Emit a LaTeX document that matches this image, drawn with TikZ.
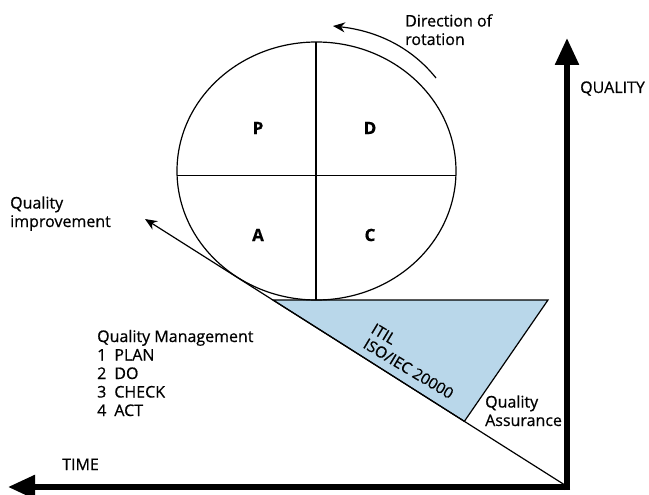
\documentclass[tikz,border=0pt]{standalone}
\usepackage{fontspec}
\setmainfont{Open Sans}[FakeBold=0.6]
\usetikzlibrary{arrows.meta,calc}
\begin{document}
\begin{tikzpicture}[x=1pt,y=-1pt,
  lbl/.style={font=\fontsize{16}{18.5}\selectfont, inner sep=0pt},
  quad/.style={font=\fontsize{17}{17}\selectfont\bfseries, inner sep=0pt},
  axis/.style={line width=5.5pt, -{Triangle[length=27pt,width=23pt]}},
  thin/.style={line width=1.2pt}]
\useasboundingbox (0,0) rectangle (649,495);
% coordinates
\coordinate (O) at (568,487);
\coordinate (Qtop) at (567,38);
\coordinate (Tleft) at (8,487);
\coordinate (QI) at (145,219);
\coordinate (t1) at (273,300);
\coordinate (t2) at (548,300);
\coordinate (t3) at ($(O)!0.245!(QI)$);
% triangle
\filldraw[fill={rgb,255:red,185;green,215;blue,234}, thin, line join=miter] (t1) -- (t2) -- (t3) -- cycle;
% diagonal
\draw[thin, -{Stealth[length=12pt,width=10pt]}] (O) -- (QI);
% circle
\coordinate (c) at (316.5,171);
\draw[thin] (c) ellipse [x radius=139.5, y radius=129];
\draw[thin] (316,42) -- (316,300);
\draw[thin] (177.3,175.5) -- (455.7,175.5);
% axes
\draw[axis] (567,490) -- (Qtop);
\draw[axis] (570,487) -- (Tleft);
% rotation arrow
\coordinate (r1) at (436,78);
\coordinate (r2) at (333,26);
\draw[thin, -{Stealth[length=12pt,width=10pt]}] (r1) .. controls (412,48) and (378,31) .. (r2);
% quadrant labels
\node[quad] (P) at (258,128) {P};
\node[quad] (D) at (370,128) {D};
\node[quad] (A) at (258,235) {A};
\node[quad] (C) at (370,235) {C};
% texts (base anchor = baseline of the last line)
\node[lbl, anchor=base west, align=left] (dir) at (405,45) {Direction of\\rotation};
\node[lbl, anchor=base west] (qual) at (580,93) {QUALITY};
\node[lbl, anchor=base west, align=left] (qimp) at (10,227) {Quality\\improvement};
\node[lbl, anchor=base west, align=left] (qm) at (97,416) {Quality Management\\1\enspace PLAN\\2\enspace DO\\3\enspace CHECK\\4\enspace ACT};
\node[lbl, anchor=base west] (time) at (62,470) {TIME};
\node[lbl, anchor=base west, align=left] (qa) at (485,426) {Quality\\Assurance};
\node[lbl, rotate=-31, anchor=base west, font=\fontsize{15.5}{17}\selectfont] (itil) at (370,332) {ITIL};
\node[lbl, rotate=-31, anchor=base west, font=\fontsize{15.5}{17}\selectfont] (iso) at (362,347) {ISO/IEC 20000};
\end{tikzpicture}
\end{document}
